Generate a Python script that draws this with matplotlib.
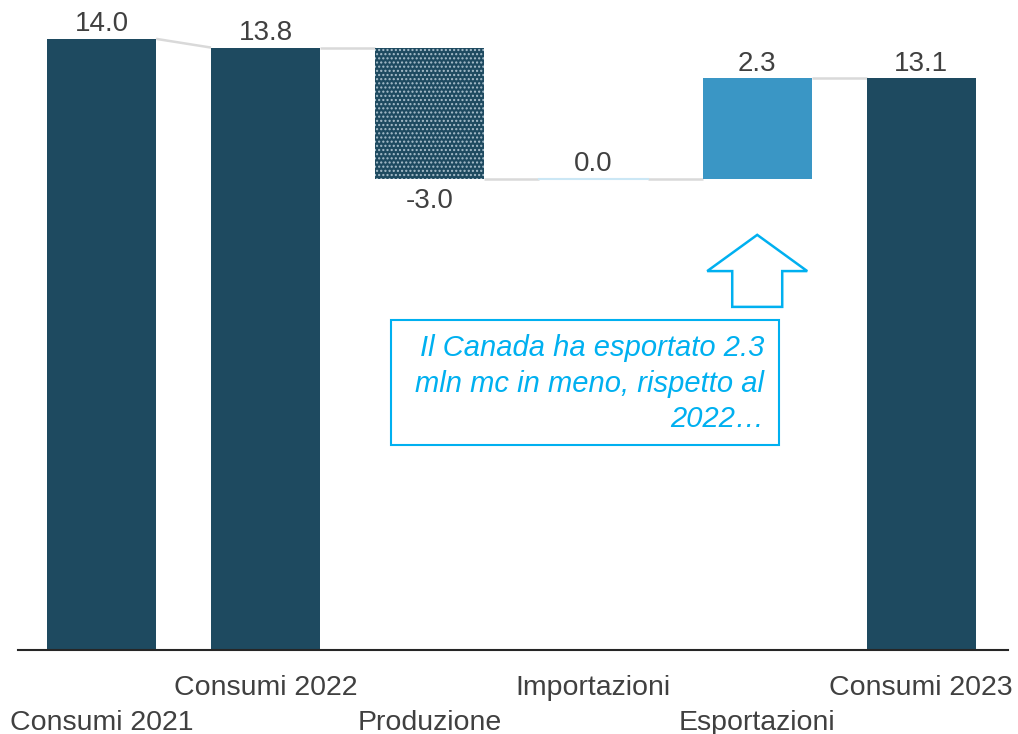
import matplotlib
matplotlib.use("Agg")
import matplotlib.pyplot as plt
import matplotlib.patches as mpatches
import numpy as np

plt.rcParams["font.family"] = ["Liberation Sans", "DejaVu Sans"]

categories = ["Consumi 2021", "Consumi 2022", "Produzione", "Importazioni",
              "Esportazioni", "Consumi 2023"]
values = [14.0, 13.8, -3.0, 0.0, 2.3, 13.1]
is_total = [True, True, False, False, False, True]

DARK = "#1e4a60"
LIGHT = "#3a96c5"
CYAN = "#00b0f0"
GREY = "#d9d9d9"

# waterfall geometry
starts, ends = [], []
running = 0.0
for v, tot in zip(values, is_total):
    if tot:
        starts.append(0.0)
        ends.append(v)
        running = v
    else:
        starts.append(running)
        running = running + v
        ends.append(running)

fig = plt.figure(figsize=(10.18, 7.34), dpi=100)
ax = fig.add_axes([18 / 1018, (734 - 650) / 734, 990 / 1018, 650 / 734])
x = np.arange(len(categories))
w = 0.665

for i, (v, tot) in enumerate(zip(values, is_total)):
    if tot:
        ax.bar(x[i], v, w, bottom=0, color=DARK, linewidth=0, zorder=2)
    elif v < 0:
        ax.bar(x[i], -v, w, bottom=ends[i], facecolor=DARK, edgecolor="#a9bfcc",
               hatch="....", linewidth=0, zorder=2)
    elif v > 0:
        ax.bar(x[i], v, w, bottom=starts[i], color=LIGHT, linewidth=0, zorder=2)
    else:
        ax.plot([x[i] - w / 2, x[i] + w / 2], [starts[i], starts[i]],
                color="#cbe7f5", lw=1.5, zorder=2)

# connectors
for i in range(len(values) - 1):
    lvl_a = ends[i]
    lvl_b = ends[i + 1] if is_total[i + 1] else starts[i + 1]
    ax.plot([x[i] + w / 2, x[i + 1] - w / 2], [lvl_a, lvl_b],
            color=GREY, lw=1.8, zorder=1, solid_capstyle="butt")

# value labels
for i, v in enumerate(values):
    top = max(starts[i], ends[i])
    if v < 0:
        ax.annotate(f"{v:.1f}", (x[i], min(starts[i], ends[i])), xytext=(0, -7),
                    textcoords="offset points", ha="center", va="top",
                    fontsize=20, color="#404040")
    else:
        ax.annotate(f"{v:.1f}", (x[i], top), xytext=(0, 1),
                    textcoords="offset points", ha="center", va="bottom",
                    fontsize=20, color="#404040")

# callout arrow + box
arrow = mpatches.FancyArrow(4.0, 7.86, 0, 1.65, width=0.305, head_width=0.61,
                            head_length=0.83, length_includes_head=True,
                            fill=False, edgecolor=CYAN, linewidth=1.8, zorder=3)
ax.add_patch(arrow)
box = mpatches.Rectangle((1.768, 4.70), 4.134 - 1.768, 7.56 - 4.70, fill=False,
                         edgecolor=CYAN, linewidth=1.5, zorder=3)
ax.add_patch(box)
ax.text(4.043, 6.10, "Il Canada ha esportato 2.3\nmln mc in meno, rispetto al\n2022\u2026",
        ha="right", va="center", fontsize=21, style="italic", color=CYAN,
        linespacing=1.35, zorder=4)

# staggered category labels (odd ones on the upper row)
ax.set_xticks([])
for i, c in enumerate(categories):
    off = -18 if i % 2 == 1 else -43
    ax.annotate(c, (x[i], 0), xycoords=("data", "axes fraction"),
                xytext=(0, off), textcoords="offset points",
                ha="center", va="top", fontsize=20.5, color="#404040",
                annotation_clip=False)
ax.set_yticks([])
ax.set_xlim(-0.51, 5.53)
ax.set_ylim(0, 14.89)
for s in ("top", "right", "left"):
    ax.spines[s].set_visible(False)
ax.spines["bottom"].set_linewidth(1.5)
ax.spines["bottom"].set_color("#262626")

fig.savefig("out.png", dpi=100)
